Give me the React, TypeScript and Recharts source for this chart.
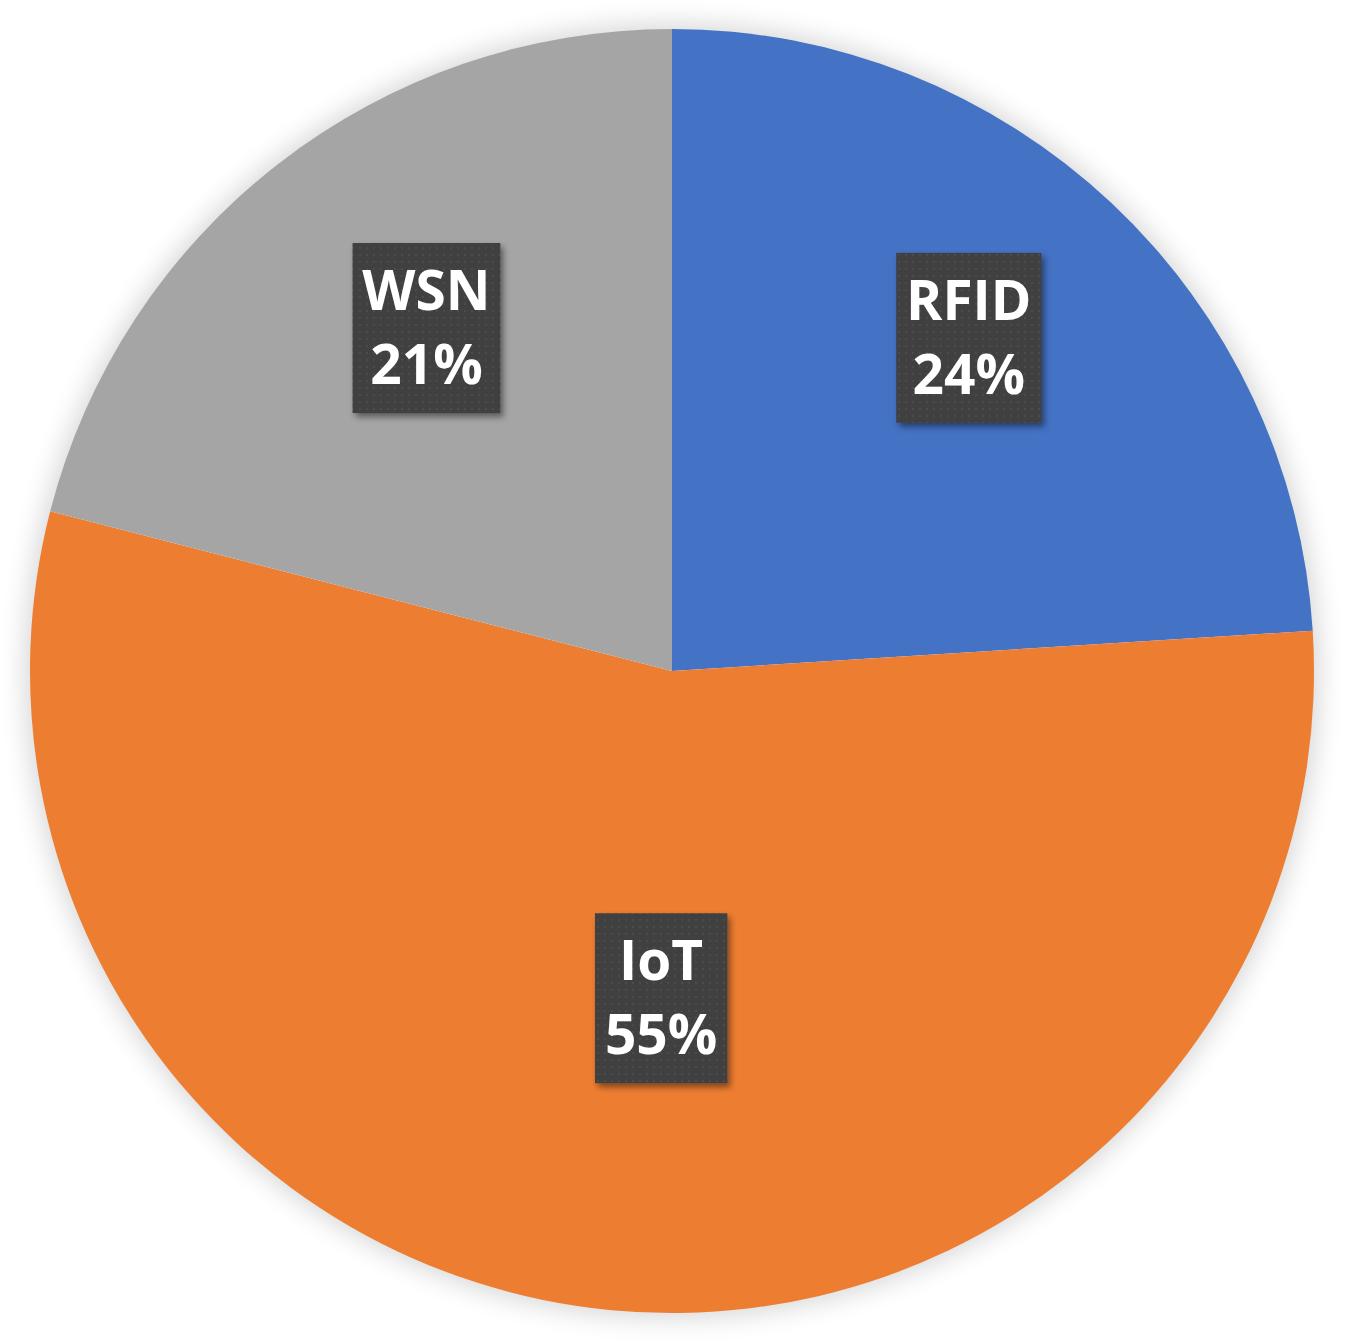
import { PieChart, Pie, Cell } from "recharts";

const names = ["RFID", "IoT", "WSN"];
const values = [24, 55, 21];
const colors = ["#4472C4", "#ED7D31", "#A5A5A5"];

const chartData = names.map((name, i) => ({ name, value: values[i] }));

// label placement: share of the radius, and a small turn off the slice's mid angle
const labelReach: Record<string, number> = { RFID: 0.695, IoT: 0.51, WSN: 0.657 };
const labelTurn: Record<string, number> = { RFID: 1.5, IoT: 3.5, WSN: -2.2 };

const RADIAN = Math.PI / 180;
const FONT = "'Open Sans', 'DejaVu Sans', sans-serif";

let ctx: CanvasRenderingContext2D | null = null;
function textWidth(s: string) {
  if (!ctx) ctx = document.createElement("canvas").getContext("2d");
  if (!ctx) return s.length * 30;
  ctx.font = `bold 54px ${FONT}`;
  return ctx.measureText(s).width;
}

function BoxLabel(props: any) {
  const { cx, cy, midAngle, outerRadius, name, percent } = props;
  const r = outerRadius * (labelReach[name] ?? 0.65);
  const a = (midAngle + (labelTurn[name] ?? 0)) * RADIAN;
  const x = cx + r * Math.cos(-a);
  const y = cy + r * Math.sin(-a);
  const pct = `${Math.round(percent * 100)}%`;
  const w = Math.max(textWidth(name), textWidth(pct)) + 22;
  const h = 170;
  return (
    <g>
      <rect
        x={x - w / 2}
        y={y - h / 2}
        width={w}
        height={h}
        fill="url(#dots)"
        filter="url(#boxShadow)"
      />
      <text
        x={x}
        y={y - 18}
        textAnchor="middle"
        fill="#fff"
        fontSize={55}
        fontWeight="bold"
        fontFamily={FONT}
      >
        {name}
      </text>
      <text
        x={x}
        y={y + 56}
        textAnchor="middle"
        fill="#fff"
        fontSize={55}
        fontWeight="bold"
        fontFamily={FONT}
      >
        {pct}
      </text>
    </g>
  );
}

export default function App() {
  return (
    <div
      style={{
        position: "absolute",
        top: 0,
        left: 0,
        width: 1348,
        height: 1341,
        background: "#fff",
      }}
    >
      <svg width={0} height={0} style={{ position: "absolute" }}>
        <defs>
          <pattern id="dots" width={7} height={7} patternUnits="userSpaceOnUse">
            <rect width={7} height={7} fill="#3f3f3f" />
            <rect x={2} y={2} width={2} height={2} fill="#4c4c4c" />
          </pattern>
          <filter id="boxShadow" x="-20%" y="-20%" width="150%" height="150%">
            <feDropShadow dx={3} dy={4} stdDeviation={3} floodColor="#000" floodOpacity={0.45} />
          </filter>
        </defs>
      </svg>
      <div
        style={{
          position: "absolute",
          left: 672 - 641,
          top: 671 - 641,
          width: 1282,
          height: 1282,
          borderRadius: "50%",
          boxShadow: "0 0 26px 6px rgba(0,0,0,0.16)",
        }}
      />
      <div style={{ position: "absolute", top: 0, left: 0 }}>
        <PieChart width={1348} height={1341} margin={{ top: 0, right: 0, bottom: 0, left: 0 }}>
          <Pie
            data={chartData}
            dataKey="value"
            nameKey="name"
            cx={672}
            cy={671}
            outerRadius={642}
            startAngle={90}
            endAngle={-270}
            stroke="none"
            label={BoxLabel}
            labelLine={false}
            isAnimationActive={false}
          >
            {chartData.map((d, i) => (
              <Cell key={d.name} fill={colors[i]} />
            ))}
          </Pie>
        </PieChart>
      </div>
    </div>
  );
}
